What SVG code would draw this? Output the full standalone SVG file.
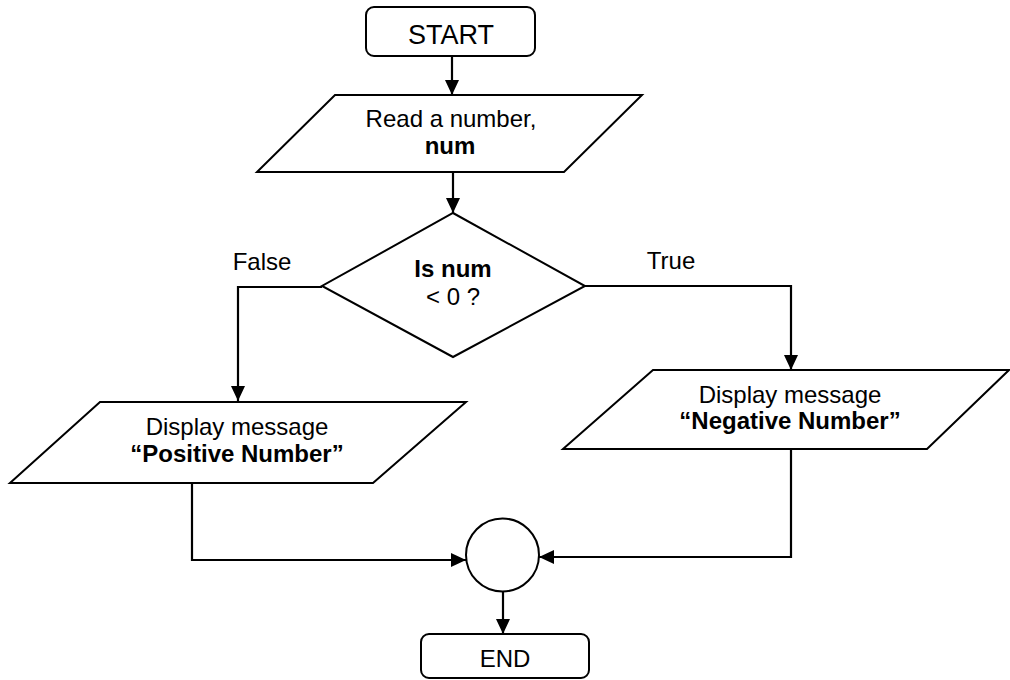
<svg xmlns="http://www.w3.org/2000/svg" width="1010" height="680" viewBox="0 0 1010 680">
  <style>
    .shape { fill: #ffffff; stroke: #000000; stroke-width: 2; }
    .edge { fill: none; stroke: #000000; stroke-width: 2.2; }
    .txt { font-family: "Liberation Sans", Arial, sans-serif; font-size: 24px; fill: #000000; text-anchor: middle; }
    .b { font-weight: bold; }
  </style>
  <defs>
    <marker id="arrow" markerWidth="15" markerHeight="14" refX="15" refY="7" orient="auto" markerUnits="userSpaceOnUse">
      <path d="M0,0 L15,7 L0,14 Z" fill="#000000"/>
    </marker>
  </defs>
  <rect width="1010" height="680" fill="#ffffff"/>

  <g id="connectors">
    <path class="edge" d="M452,56 L452,95" marker-end="url(#arrow)"/>
    <path class="edge" d="M453,172 L453,213" marker-end="url(#arrow)"/>
    <path class="edge" d="M322,287 L238,287 L238,401" marker-end="url(#arrow)"/>
    <path class="edge" d="M585,286 L791,286 L791,370" marker-end="url(#arrow)"/>
    <path class="edge" d="M192,483 L192,560 L466,560" marker-end="url(#arrow)"/>
    <path class="edge" d="M791,449 L791,557 L539,557" marker-end="url(#arrow)"/>
    <path class="edge" d="M503,592 L503,634" marker-end="url(#arrow)"/>
    <text class="txt" x="262" y="270">False</text>
    <text class="txt" x="671" y="269">True</text>
  </g>

  <g id="start">
    <rect class="shape" x="366" y="7" width="169" height="49" rx="8" ry="8"/>
    <text class="txt" x="451" y="44" style="font-size:27px">START</text>
  </g>

  <g id="read-num">
    <polygon class="shape" points="335,95 642,95 564,172 257,172"/>
    <text class="txt" x="451" y="127">Read a number,</text>
    <text class="txt b" x="450" y="154">num</text>
  </g>

  <g id="decision">
    <polygon class="shape" points="453,213 585,286 453,357 322,286"/>
    <text class="txt b" x="453" y="277">Is num</text>
    <text class="txt" x="453" y="305">&lt; 0 ?</text>
  </g>

  <g id="show-positive">
    <polygon class="shape" points="100,402 466,402 373,483 10,483"/>
    <text class="txt" x="237" y="435">Display message</text>
    <text class="txt b" x="237" y="462">“Positive Number”</text>
  </g>

  <g id="show-negative">
    <polygon class="shape" points="653,370 1009,370 927,449 563,449"/>
    <text class="txt" x="790" y="403">Display message</text>
    <text class="txt b" x="790" y="429">“Negative Number”</text>
  </g>

  <g id="join">
    <circle class="shape" cx="502.5" cy="555" r="36.5"/>
  </g>

  <g id="end">
    <rect class="shape" x="421" y="634" width="168" height="44" rx="8" ry="8"/>
    <text class="txt" x="505" y="667">END</text>
  </g>
</svg>
